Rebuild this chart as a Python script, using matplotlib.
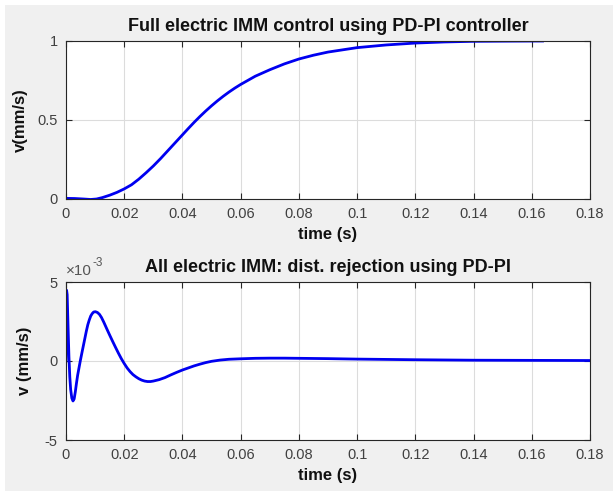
import matplotlib
matplotlib.use("Agg")
import matplotlib.pyplot as plt
from matplotlib.patches import Rectangle

plt.rcParams['font.family'] = ['Liberation Sans', 'DejaVu Sans']
plt.rcParams['axes.unicode_minus'] = False

# ---- data ----
t_top = [0, 0.003, 0.006, 0.0085, 0.0105, 0.0125, 0.015, 0.0175, 0.02, 0.0225,
         0.025, 0.0275, 0.03, 0.0325, 0.035, 0.0375, 0.04, 0.042, 0.044, 0.046,
         0.048, 0.05, 0.052, 0.054, 0.056, 0.058, 0.06, 0.065, 0.07, 0.075,
         0.08, 0.085, 0.09, 0.1, 0.11, 0.12, 0.13, 0.14, 0.15, 0.1637]
v_top = [0.004, 0.003, 0.0, -0.003, 0.0, 0.009, 0.024, 0.042, 0.064, 0.09,
         0.1255, 0.166, 0.209, 0.256, 0.306, 0.356, 0.406, 0.446, 0.485, 0.522,
         0.557, 0.590, 0.621, 0.650, 0.677, 0.702, 0.725, 0.777, 0.818, 0.855,
         0.886, 0.91, 0.93, 0.958, 0.975, 0.987, 0.994, 0.998, 0.999, 1.0]

t_bot = [0, 0.0002, 0.0004, 0.0007, 0.001, 0.0013, 0.0016, 0.002, 0.0024, 0.0028,
         0.0032, 0.0036, 0.004, 0.0045, 0.0049, 0.0055, 0.006, 0.0065, 0.007, 0.0075,
         0.008, 0.0085, 0.009, 0.0095, 0.0101, 0.0108, 0.0115, 0.0122, 0.013, 0.014,
         0.015, 0.016, 0.017, 0.018, 0.019, 0.02, 0.021, 0.022, 0.023, 0.024,
         0.025, 0.026, 0.027, 0.028, 0.029, 0.03, 0.032, 0.034, 0.036, 0.038,
         0.04, 0.042, 0.044, 0.046, 0.048, 0.05, 0.053, 0.056, 0.06, 0.065,
         0.07, 0.075, 0.08, 0.09, 0.1, 0.12, 0.14, 0.16, 0.18]
v_bot = [0, 4.48e-3, 4.2e-3, 2.2e-3, 0.3e-3, -1.0e-3, -1.8e-3, -2.35e-3, -2.53e-3, -2.4e-3,
         -1.95e-3, -1.4e-3, -0.9e-3, -0.4e-3, 0.0, 0.55e-3, 1.0e-3, 1.45e-3, 1.9e-3, 2.3e-3,
         2.6e-3, 2.85e-3, 3.0e-3, 3.1e-3, 3.12e-3, 3.07e-3, 2.95e-3, 2.75e-3, 2.45e-3, 2.04e-3,
         1.64e-3, 1.25e-3, 0.87e-3, 0.5e-3, 0.15e-3, -0.16e-3, -0.44e-3, -0.67e-3, -0.86e-3, -1.0e-3,
         -1.12e-3, -1.21e-3, -1.27e-3, -1.3e-3, -1.3e-3, -1.27e-3, -1.18e-3, -1.05e-3, -0.88e-3, -0.72e-3,
         -0.57e-3, -0.44e-3, -0.31e-3, -0.2e-3, -0.1e-3, -0.02e-3, 0.06e-3, 0.11e-3, 0.14e-3, 0.17e-3,
         0.18e-3, 0.18e-3, 0.17e-3, 0.15e-3, 0.12e-3, 0.08e-3, 0.05e-3, 0.04e-3, 0.03e-3]

x_ticks = [0, 0.02, 0.04, 0.06, 0.08, 0.1, 0.12, 0.14, 0.16, 0.18]
x_ticklabels = ['0', '0.02', '0.04', '0.06', '0.08', '0.1', '0.12', '0.14', '0.16', '0.18']
y_ticks_top = [0, 0.5, 1]
y_ticklabels_top = ['0', '0.5', '1']
y_ticks_bot = [-5e-3, 0, 5e-3]
y_ticklabels_bot = ['-5', '0', '5']

W, H = 616, 498
fig = plt.figure(figsize=(W / 100, H / 100), dpi=100)
fig.patch.set_facecolor('white')
fig.patches.append(Rectangle((5 / W, 1 - 491 / H), 608 / W, 486 / H,
                             transform=fig.transFigure, facecolor='#f0f0f0',
                             edgecolor='none', zorder=-10))

axc = '#262626'
tickc = '#404040'
lc = '#0000f0'

def style(ax):
    ax.set_facecolor('white')
    ax.grid(True, color='#dcdcdc', linewidth=0.8)
    ax.set_axisbelow(True)
    for s in ax.spines.values():
        s.set_color(axc)
        s.set_linewidth(0.8)
    ax.tick_params(direction='in', top=True, right=True, length=4, width=0.8,
                   color=axc, labelcolor=tickc, labelsize=10.5, pad=6)
    ax.set_xlim(0, 0.18)
    ax.set_xticks(x_ticks)
    ax.set_xticklabels(x_ticklabels)

ax1 = fig.add_axes([66 / W, 1 - 199 / H, 524 / W, 158 / H])
style(ax1)
ax1.plot(t_top, v_top, color=lc, linewidth=2)
ax1.set_ylim(0, 1)
ax1.set_yticks(y_ticks_top)
ax1.set_yticklabels(y_ticklabels_top)
ax1.set_title('Full electric IMM control using PD-PI controller',
              fontsize=13, fontweight='bold', color='#111111', pad=7)
ax1.set_xlabel('time (s)', fontsize=12, fontweight='bold', color='#111111', labelpad=4)
ax1.set_ylabel('v(mm/s)', fontsize=12, fontweight='bold', color='#111111', labelpad=7)

ax2 = fig.add_axes([66 / W, 1 - 440 / H, 524 / W, 158 / H])
style(ax2)
ax2.plot(t_bot, v_bot, color=lc, linewidth=2)
ax2.set_ylim(-5e-3, 5e-3)
ax2.set_yticks(y_ticks_bot)
ax2.set_yticklabels(y_ticklabels_bot)
ax2.set_title('All electric IMM: dist. rejection using PD-PI',
              fontsize=13, fontweight='bold', color='#111111', pad=7)
ax2.set_xlabel('time (s)', fontsize=12, fontweight='bold', color='#111111', labelpad=4)
ax2.set_ylabel('v (mm/s)', fontsize=12, fontweight='bold', color='#111111', labelpad=9)
ax2.annotate('\u00d710', xy=(0, 1), xycoords='axes fraction', xytext=(0, 3),
             textcoords='offset points', ha='left', va='bottom',
             fontsize=11, color='#555555')
ax2.annotate('-3', xy=(0, 1), xycoords='axes fraction', xytext=(19, 9),
             textcoords='offset points', ha='left', va='bottom',
             fontsize=8.5, color='#555555')

fig.savefig('out.png', dpi=100)
